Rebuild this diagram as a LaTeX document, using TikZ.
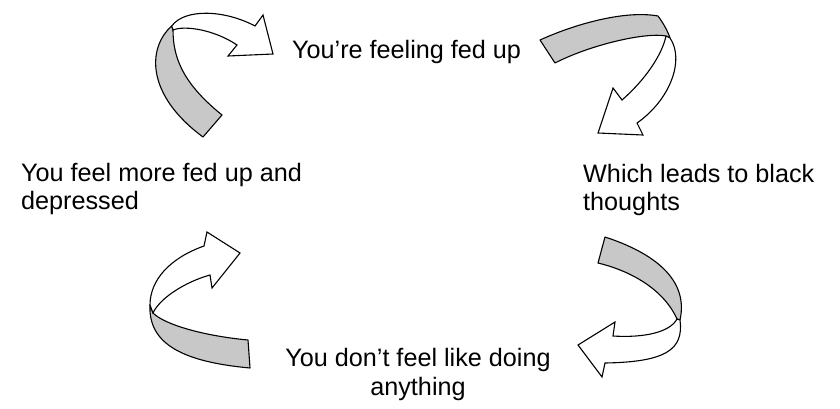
\documentclass[tikz,border=0pt]{standalone}
\usepackage{fontspec}
\setmainfont{Liberation Sans}
\definecolor{ribbon}{RGB}{200,200,200}

\begin{document}
\begin{tikzpicture}[x=1pt, y=-1pt,
		back/.style={draw, fill=ribbon, line width=1.1pt, line join=round},
		front/.style={draw, fill=white, line width=1.1pt, line join=miter},
		thought/.style={font=\fontsize{25.2}{28.3}\selectfont, inner sep=0pt}]
	\useasboundingbox (0,0) rectangle (840,408);
	\node[thought, anchor=base west] (fedup) at (292,58) {You’re feeling fed up};
	\node[thought, anchor=base west, align=left] (black) at (583,210.5) {Which leads to black\\thoughts};
	\node[thought, anchor=base, align=center] (nothing) at (418,395) {You don’t feel like doing\\anything};
	\node[thought, anchor=base west, align=left] (worse) at (21,209.3) {You feel more fed up and\\depressed};
	\draw[back] (171.7,26) .. controls (147,48) and (146,95) .. (203,137) -- (222,115)
		.. controls (185,85) and (173,60) .. (173,30) -- cycle;
	\draw[front] (171.7,26) .. controls (185,8) and (225,10) .. (255,26) -- (263,15) -- (273,54)
		-- (228,56) -- (237,45) .. controls (215,30) and (185,25) .. (173,30) -- cycle;
	\draw[back] (540,40) .. controls (575,24) and (625,10) .. (658,16) .. controls (664,24) and (668,32) .. (670,38)
		-- (666,36) .. controls (645,32) and (590,45) .. (555,63) -- cycle;
	\draw[front] (670,38) .. controls (685,60) and (670,100) .. (637,123) -- (643,135) -- (598,133)
		-- (613,88) -- (622,100) .. controls (645,80) and (662,55) .. (666,36) -- cycle;
	\draw[back] (605,237) .. controls (645,250) and (690,275) .. (680,320) -- (677,319)
		.. controls (665,292) and (635,272) .. (598,263) -- cycle;
	\draw[front] (680,320) .. controls (684,350) and (665,362) .. (605,363) -- (602,377) -- (578,345)
		-- (615,322) -- (613,336) .. controls (645,338) and (670,332) .. (677,319) -- cycle;
	\draw[back] (150,305) .. controls (148,345) and (185,362) .. (250,368) -- (248,340)
		.. controls (205,336) and (165,325) .. (153,313) -- cycle;
	\draw[front] (150,305) .. controls (150,280) and (170,258) .. (204,246) -- (207,232) -- (240,253)
		-- (212,288) -- (210,275) .. controls (185,282) and (160,298) .. (153,313) -- cycle;
\end{tikzpicture}
\end{document}
